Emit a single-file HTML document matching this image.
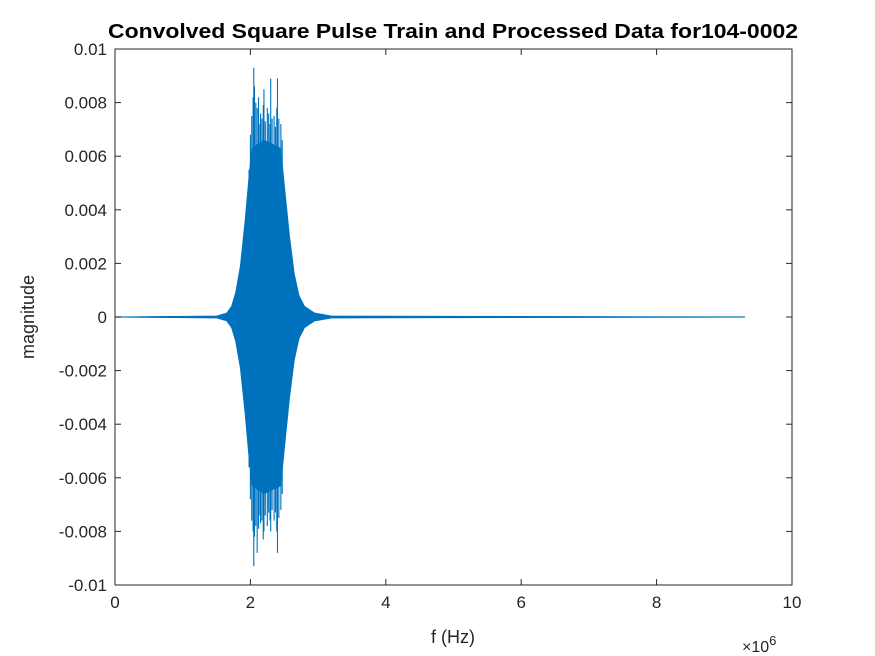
<!DOCTYPE html>
<html><head><meta charset="utf-8"><style>
body{margin:0;background:#fff;}
svg{display:block;font-family:"Liberation Sans",Arial,sans-serif;}
</style></head><body>
<svg id="chart" width="875" height="656" viewBox="0 0 875 656">
<rect width="875" height="656" fill="#fff"/>
<text x="453" y="38" text-anchor="middle" font-size="20" font-weight="bold" fill="#000" textLength="690" lengthAdjust="spacingAndGlyphs">Convolved Square Pulse Train and Processed Data for104-0002</text>
<g id="plot"></g>
<text x="453" y="643" text-anchor="middle" font-size="18" fill="#262626">f (Hz)</text>
<text transform="translate(34,317) rotate(-90)" text-anchor="middle" font-size="18" fill="#262626">magnitude</text>
<text x="742" y="652" font-size="16" fill="#262626">×10<tspan dy="-7" font-size="13">6</tspan></text>
</svg>
<script>
const xTicks=[0,2,4,6,8,10];
const yTicks=[0.01,0.008,0.006,0.004,0.002,0,-0.002,-0.004,-0.006,-0.008,-0.01];
const yTickLabels=["0.01","0.008","0.006","0.004","0.002","0","-0.002","-0.004","-0.006","-0.008","-0.01"];
const envF=[0,1.5,1.65,1.72,1.78,1.85,1.92,1.98,2.02,2.2,2.45,2.5,2.58,2.65,2.72,2.8,2.95,3.2,9.3];
const envA=[0.00001,0.00004,0.00015,0.0004,0.0009,0.0019,0.0036,0.0053,0.0063,0.0066,0.0063,0.005,0.003,0.0016,0.0008,0.0004,0.00015,0.00004,0.00001];
const spikeF=[1.98,2.0,2.02,2.04,2.05,2.06,2.08,2.1,2.12,2.14,2.15,2.17,2.19,2.2,2.22,2.25,2.27,2.29,2.3,2.32,2.35,2.37,2.39,2.4,2.42,2.45,2.47];
const spikeUp=[0.0055,0.0068,0.0075,0.0082,0.0093,0.0086,0.008,0.0078,0.0082,0.0072,0.0076,0.0074,0.0079,0.0085,0.0073,0.0078,0.0076,0.0072,0.0089,0.0074,0.0075,0.0071,0.0078,0.0089,0.0074,0.0072,0.0066];
const spikeDown=[-0.0056,-0.0068,-0.0076,-0.008,-0.0093,-0.0082,-0.0078,-0.0088,-0.0079,-0.0074,-0.0077,-0.0076,-0.0083,-0.008,-0.0074,-0.0078,-0.0073,-0.0076,-0.008,-0.0072,-0.0076,-0.0073,-0.008,-0.0088,-0.0075,-0.0072,-0.0066];
const X0=115,X1=792,Y0=49,Y1=585;
const xs=v=>X0+(v-0)/(10-0)*(X1-X0);
const ys=v=>Y0+(0.01-v)/0.02*(Y1-Y0);
const NS="http://www.w3.org/2000/svg";
const g=document.getElementById('plot');
function mk(t,a){const e=document.createElementNS(NS,t);for(const k in a)e.setAttribute(k,a[k]);g.appendChild(e);return e;}
let box=mk('rect',{x:X0,y:Y0,width:X1-X0,height:Y1-Y0,fill:'#fff',stroke:'#262626','stroke-width':1});


let pts=envF.map((f,i)=>xs(f)+','+ys(envA[i]));
for(let i=envF.length-1;i>=0;i--)pts.push(xs(envF[i])+','+ys(-envA[i]));
let poly=mk('polygon',{points:pts.join(' '),fill:'#0072BD',stroke:'#0072BD','stroke-width':0.6});


spikeF.forEach((f,i)=>{
 let l=mk('line',{x1:xs(f),x2:xs(f),y1:ys(spikeUp[i]),y2:ys(spikeDown[i]),stroke:'#0072BD','stroke-width':1.1});
 
 
});
xTicks.forEach(v=>{
 let x=xs(v);
 let t=mk('line',{x1:x,x2:x,y1:Y1,y2:Y1-6,stroke:'#262626'});
 
 
 let t2=mk('line',{x1:x,x2:x,y1:Y0,y2:Y0+6,stroke:'#262626'});
 
 
 let tx=mk('text',{x:x,y:Y1+23,'text-anchor':'middle','font-size':17,fill:'#262626'});
 tx.textContent=v;
 
 
});
yTicks.forEach((v,i)=>{
 let y=ys(v);
 let t=mk('line',{x1:X0,x2:X0+6,y1:y,y2:y,stroke:'#262626'});
 
 
 let t2=mk('line',{x1:X1,x2:X1-6,y1:y,y2:y,stroke:'#262626'});
 
 
 let tx=mk('text',{x:X0-8,y:y+6,'text-anchor':'end','font-size':17,fill:'#262626'});
 tx.textContent=yTickLabels[i];
 
 
});
</script>
</body></html>
